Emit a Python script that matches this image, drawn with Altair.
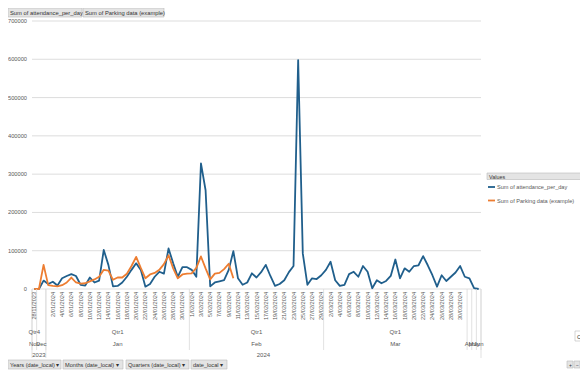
import altair as alt
import pandas as pd

FONT = "Liberation Sans"
GRAY = "#595959"
BLUE = "#205F8C"
ORANGE = "#ED7D31"
LINEC = "#d9d9d9"

# ---- category axis (97 daily categories) ----
date_labels = (["28/11/2023", "", ""]
               + [f"{d}/01/2024" if d % 2 == 0 else "" for d in range(1, 32)]
               + [f"{d}/02/2024" if d % 2 == 1 else "" for d in range(1, 30)]
               + [f"{d}/03/2024" if d % 2 == 0 else "" for d in range(1, 32)]
               + ["", "", ""])

attendance = [0, 0, 22000, 13000, 19000, 9000, 28000, 34000, 39000, 34000,
              11000, 9000, 30000, 17000, 22000, 102000, 63000, 7000, 8000, 17000,
              32000, 50000, 67000, 50000, 6000, 13000, 32000, 45000, 40000, 106000,
              67000, 32000, 57000, 57000, 50000, 32000, 328000, 258000, 7000, 17000,
              20000, 23000, 50000, 99000, 28000, 11000, 17000, 41000, 30000, 44000,
              63000, 34000, 8000, 13000, 23000, 44000, 60000, 598000, 93000, 11000,
              28000, 26000, 36000, 50000, 71000, 23000, 8000, 11000, 39000, 45000,
              32000, 60000, 45000, 2000, 23000, 15000, 21000, 34000, 77000, 28000,
              54000, 45000, 60000, 62000, 86000, 62000, 36000, 6000, 36000, 21000,
              32000, 43000, 60000, 32000, 28000, 2000, 0]

parking = [0, 0, 63000, 10000, 8000, 7000, 10000, 17000, 30000, 17000,
           14000, 15000, 20000, 25000, 32000, 50000, 48000, 24000, 30000, 30000,
           40000, 60000, 84000, 55000, 28000, 38000, 42000, 50000, 65000, 88000,
           54000, 28000, 38000, 40000, 41000, 55000, 85000, 54000, 25000, 40000,
           42000, 52000, 66000, 28000]

months = ["Nov", "Dec", "Jan", "Feb", "Mar", "Apr", "May", "Jun"]
month_first = [0, 1, 3, 34, 63, 94, 95, 96]
month_last = [0, 2, 33, 62, 93, 94, 95, 96]
quarters = ["Qtr4", "", "Qtr1", "Qtr1", "Qtr1", "", "", ""]

years = ["2023", "2024"]
year_first = [0, 3]
year_last = [2, 96]

y_ticks = [0, 100000, 200000, 300000, 400000, 500000, 600000, 700000]

# ---- tables ----
df_att = pd.DataFrame({"i": range(len(attendance)), "v": attendance})
df_park = pd.DataFrame({"i": range(len(parking)), "v": parking})
df_dates = pd.DataFrame({"i": range(len(date_labels)), "label": date_labels})
df_dates = df_dates[df_dates["label"] != ""]
df_months = pd.DataFrame({"c": [(a + b) / 2 for a, b in zip(month_first, month_last)],
                          "m": months, "q": quarters})
df_quarters = df_months[df_months["q"] != ""]
df_years = pd.DataFrame({"c": [(a + b) / 2 for a, b in zip(year_first, year_last)], "y": years})
df_msep = pd.DataFrame({"b": [f - 0.5 for f in month_first] + [month_last[-1] + 0.5]})
df_ysep = pd.DataFrame({"b": [f - 0.5 for f in year_first] + [year_last[-1] + 0.5]})
df_yt = pd.DataFrame({"t": y_ticks, "s": [str(t) for t in y_ticks]})

xs = alt.Scale(domain=[-0.5, len(attendance) - 0.5], nice=False, zero=False)
ys = alt.Scale(domain=[0, 700000], nice=False)

grid = alt.Chart(df_yt).mark_rule(color="#d9d9d9", strokeWidth=0.9).encode(
    y=alt.Y("t:Q", scale=ys, axis=None), x=alt.value(0), x2=alt.value(449))
ylab = alt.Chart(df_yt).mark_text(align="right", baseline="middle", fontSize=5.7, font=FONT,
                                  color=GRAY).encode(
    y=alt.Y("t:Q", scale=ys, axis=None), x=alt.value(-5), text="s:N")

line_att = alt.Chart(df_att).mark_line(color=BLUE, strokeWidth=1.8, strokeJoin="round").encode(
    x=alt.X("i:Q", scale=xs, axis=None),
    y=alt.Y("v:Q", scale=ys, axis=None),
)
line_park = alt.Chart(df_park).mark_line(color=ORANGE, strokeWidth=1.8, strokeJoin="round").encode(
    x=alt.X("i:Q", scale=xs, axis=None),
    y=alt.Y("v:Q", scale=ys, axis=None),
)

date_text = alt.Chart(df_dates).mark_text(angle=270, align="right", baseline="middle",
                                          fontSize=5.6, font=FONT, color=GRAY).encode(
    x=alt.X("i:Q", scale=xs, axis=None), y=alt.value(271), text="label:N")

msep = alt.Chart(df_msep).mark_rule(color=LINEC, strokeWidth=0.8).encode(
    x=alt.X("b:Q", scale=xs, axis=None), y=alt.value(268), y2=alt.value(329))
ysep = alt.Chart(df_ysep).mark_rule(color=LINEC, strokeWidth=0.8).encode(
    x=alt.X("b:Q", scale=xs, axis=None), y=alt.value(268), y2=alt.value(337))

q_text = alt.Chart(df_quarters).mark_text(fontSize=6, font=FONT, color=GRAY, baseline="middle").encode(
    x=alt.X("c:Q", scale=xs, axis=None), y=alt.value(310.5), text="q:N")
m_text = alt.Chart(df_months).mark_text(fontSize=6, font=FONT, color=GRAY, baseline="middle").encode(
    x=alt.X("c:Q", scale=xs, axis=None), y=alt.value(322.5), text="m:N")
y_text = alt.Chart(df_years).mark_text(fontSize=6, font=FONT, color=GRAY, baseline="middle").encode(
    x=alt.X("c:Q", scale=xs, axis=None), y=alt.value(333.5), text="y:N")


def button(x0, x1, y0, y1, label, fill="#e4e4e4", size=5.8):
    d = pd.DataFrame({"t": [label]})
    r = alt.Chart(d).mark_rect(fill=fill, stroke="#b8b8b8", strokeWidth=0.6).encode(
        x=alt.value(x0), x2=alt.value(x1), y=alt.value(y0), y2=alt.value(y1))
    t = alt.Chart(d).mark_text(align="left", baseline="middle", fontSize=size, font=FONT,
                               color="#333333").encode(
        x=alt.value(x0 + 2), y=alt.value((y0 + y1) / 2 + 0.5), text="t:N")
    return [r, t]


ann = []
# top value field buttons
ann += button(-24, 50, -13, -4, "Sum of attendance_per_day")
ann += button(51, 132, -13, -4, "Sum of Parking data (example)")
# bottom axis field buttons
ann += button(-24, 29, 339, 348, "Years (date_local) \u25be", size=5.6)
ann += button(31, 91, 339, 348, "Months (date_local) \u25be", size=5.6)
ann += button(94, 157, 339, 348, "Quarters (date_local) \u25be", size=5.6)
ann += button(159, 195, 339, 348, "date_local \u25be", size=5.6)
# legend header
ann += button(455, 560, 152, 158.5, "Values", size=5.4)
# side / zoom controls
ann += button(543, 560, 310, 320, "Cha", fill="#ffffff", size=6)
ann += button(535, 541, 340, 347, "+", size=5)
ann += button(542, 548, 340, 347, "\u2212", size=5)

legend_items = ["Sum of attendance_per_day", "Sum of Parking data (example)"]
legend_colors = [BLUE, ORANGE]
legend_y = [166, 179.5]
for name, col, ly in zip(legend_items, legend_colors, legend_y):
    d = pd.DataFrame({"t": [name]})
    ann.append(alt.Chart(d).mark_rule(color=col, strokeWidth=1.8).encode(
        x=alt.value(456), x2=alt.value(463), y=alt.value(ly)))
    ann.append(alt.Chart(d).mark_text(align="left", baseline="middle", fontSize=5.6, font=FONT,
                                      color=GRAY).encode(
        x=alt.value(465), y=alt.value(ly), text="t:N"))

chart = alt.layer(grid, ylab, line_att, line_park, msep, ysep, date_text, q_text, m_text, y_text,
                  *ann).properties(
    width=449, height=268,
    padding={"left": 24, "top": 13, "right": 99, "bottom": 81},
    autosize=alt.AutoSizeParams(type="none"),
    background="white",
).configure_view(strokeWidth=0)

chart.save("out.html", embed_options={"renderer": "svg", "actions": False})
